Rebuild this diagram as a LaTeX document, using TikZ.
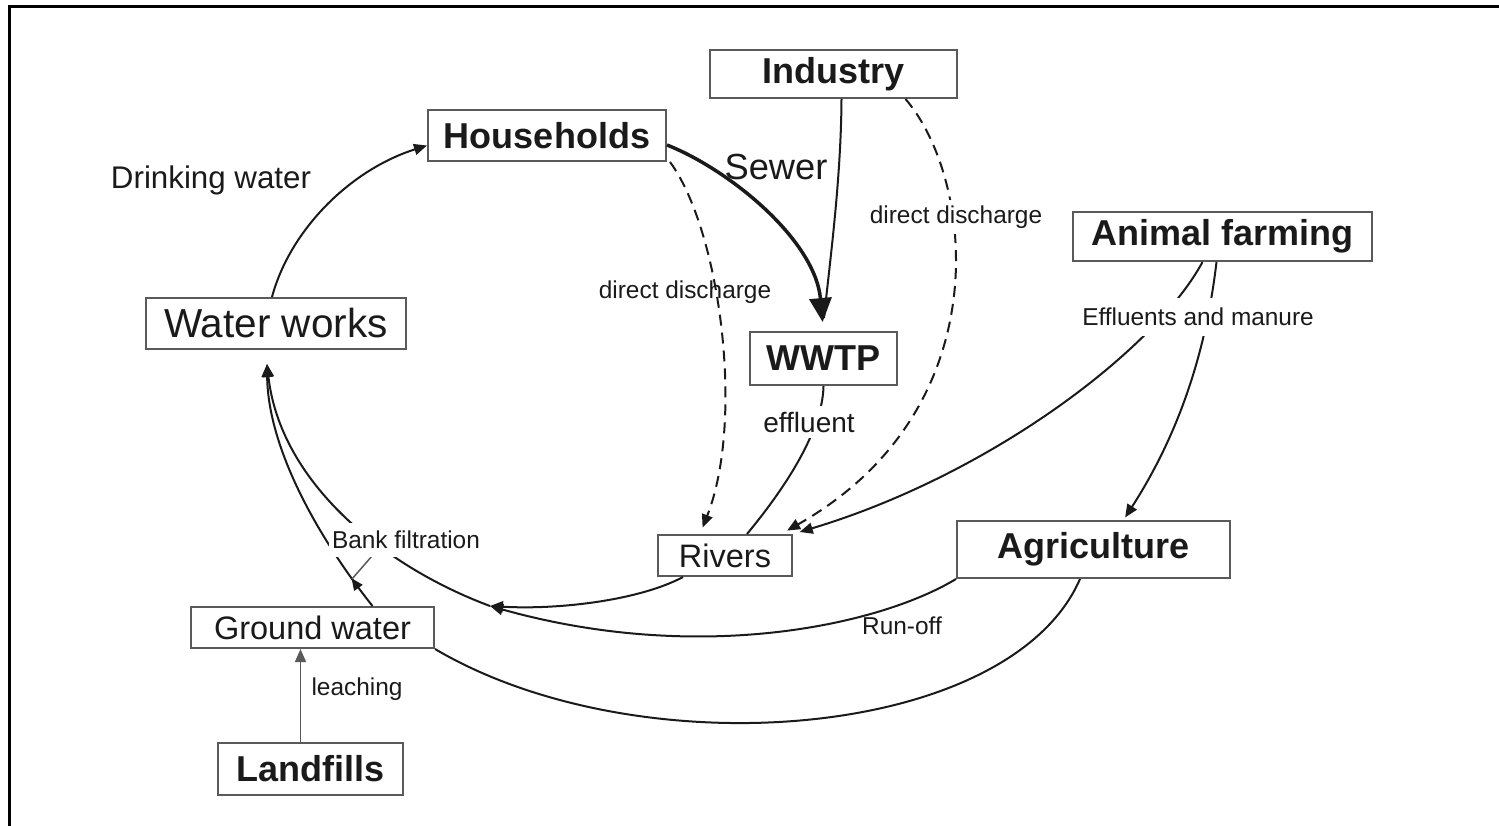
\documentclass[tikz,border=0pt]{standalone}
\usepackage{fontspec}
\setmainfont{Liberation Sans}
\usetikzlibrary{arrows.meta,decorations.markings}
\definecolor{edgec}{HTML}{5A5A5A}
\definecolor{inkc}{HTML}{1A1A1A}
\tikzset{
  ar/.style={-{Triangle[length=13pt,width=11pt]},line width=2pt,inkc},
  ln/.style={line width=2pt,inkc},
  dsh/.style={line width=2pt,inkc,dash pattern=on 11pt off 7pt},
  box/.style={draw=edgec,line width=2pt,inner sep=0pt,text=inkc,font=\fontsize{36}{40}\selectfont\bfseries},
  pbox/.style={box,font=\fontsize{32.5}{36}\selectfont},
  lbl/.style={inner sep=2pt,text=inkc,font=\fontsize{24.4}{28}\selectfont}
}
\begin{document}
\begin{tikzpicture}[x=1pt,y=-1pt]
\useasboundingbox (0,0) rectangle (1499,826);
\draw[line width=3pt] (9,826) -- (9,6.5) -- (1499,6.5);
% boxes
\node[box,minimum width=247pt,minimum height=48pt] (ind) at (833.5,74) {Industry};
\node[box,minimum width=238pt,minimum height=51pt] (hh) at (547,135.5) {Households};
\node[box,font=\fontsize{40.5}{44}\selectfont,minimum width=260pt,minimum height=51pt] (ww) at (276,323.5) {Water works};
\node[box,minimum width=147pt,minimum height=53pt] (wwtp) at (823.5,358.5) {WWTP};
\node[box,minimum width=299pt,minimum height=49pt] (af) at (1222.5,236.5) {Animal farming};
\node[pbox,minimum width=134pt,minimum height=41pt] (riv) at (725,555.5) {Rivers};
\node[box,minimum width=273pt,minimum height=57pt] (ag) at (1093.5,549.5) {Agriculture};
\node[pbox,minimum width=243pt,minimum height=41pt] (gw) at (312.5,627.5) {Ground water};
\node[box,minimum width=185pt,minimum height=52pt] (lf) at (310.5,769) {Landfills};
\coordinate (mrg) at (490,606);
\coordinate (bf) at (372,556);
\coordinate (gwj) at (352,579);
% flows
\draw[ar] ([xshift=-4pt]ww.north) .. controls (290,230) and (350,170) .. ([yshift=-10pt]hh.west);
\draw[ln] ([xshift=8pt]ind.south) .. controls (841,180) and (830,260) .. (824,318);
\draw[-{Triangle[length=24pt,width=22pt]},line width=3.5pt,inkc,shorten >=9pt] ([yshift=17pt]hh.south east) .. controls (730,170) and (815,240) .. (wwtp.north);
\draw[dsh,-{Triangle[length=13pt,width=11pt]},shorten >=7pt] ([xshift=3pt]hh.south east) .. controls (720,230) and (745,420) .. ([xshift=-25pt]riv.north);
\draw[dsh,-{Triangle[length=13pt,width=11pt]},shorten >=7pt] ([xshift=72pt]ind.south) .. controls (975,180) and (1000,410) .. ([xshift=-12pt]riv.north east);
\draw[ln] (wwtp.south) .. controls (823,420) and (800,470) .. ([xshift=22pt]riv.north);
\draw[ar,shorten >=7pt] ([xshift=-20pt]af.south) .. controls (1155,350) and (990,475) .. (riv.north east);
\draw[ar,shorten >=3pt] ([xshift=-6pt]af.south) .. controls (1205,360) and (1175,440) .. ([xshift=30pt]ag.north);
\draw[ar] ([xshift=-42pt]riv.south) .. controls (640,600) and (560,610) .. (mrg);
\draw[ar] (ag.south west) .. controls (880,625) and (700,665) .. (mrg);
\draw[ar] (mrg) .. controls (380,565) and (280,480) .. ([xshift=-9pt,yshift=-14pt]ww.south);
\draw[ar,decoration={markings,mark=at position 0.13 with {\arrow{Triangle[length=12pt,width=10pt]}}},postaction=decorate] ([xshift=60pt]gw.north) .. controls (320,540) and (268,450) .. ([xshift=-9pt,yshift=-14pt]ww.south);
\draw[line width=1.5pt,edgec] (bf) -- (gwj);
\draw[ln] ([xshift=-13.5pt]ag.south) .. controls (1010,740) and (640,770) .. (gw.south east);
\draw[ar,line width=1.6pt,edgec] ([xshift=-10pt]lf.north) -- ([xshift=-12pt]gw.south);
% labels
\node[lbl,font=\fontsize{31.3}{34}\selectfont] (dwl) at (211,180) {Drinking water};
\node[lbl,font=\fontsize{36.3}{40}\selectfont] (swl) at (776,167) {Sewer};
\node[lbl] (ddl) at (685,292) {direct discharge};
\node[lbl,fill=white,inner ysep=6pt] (ddr) at (956,217) {direct discharge};
\node[lbl,fill=white,inner ysep=10pt] (efm) at (1198,317) {Effluents and manure};
\node[lbl,fill=white,inner ysep=6pt,font=\fontsize{28}{32}\selectfont] (efl) at (809,422) {effluent};
\node[lbl,fill=white,inner xsep=3pt,inner ysep=8pt] (bfl) at (406,540) {Bank filtration};
\node[lbl] (rol) at (902,626) {Run-off};
\node[lbl] (lch) at (357,689) {leaching};
\end{tikzpicture}
\end{document}
